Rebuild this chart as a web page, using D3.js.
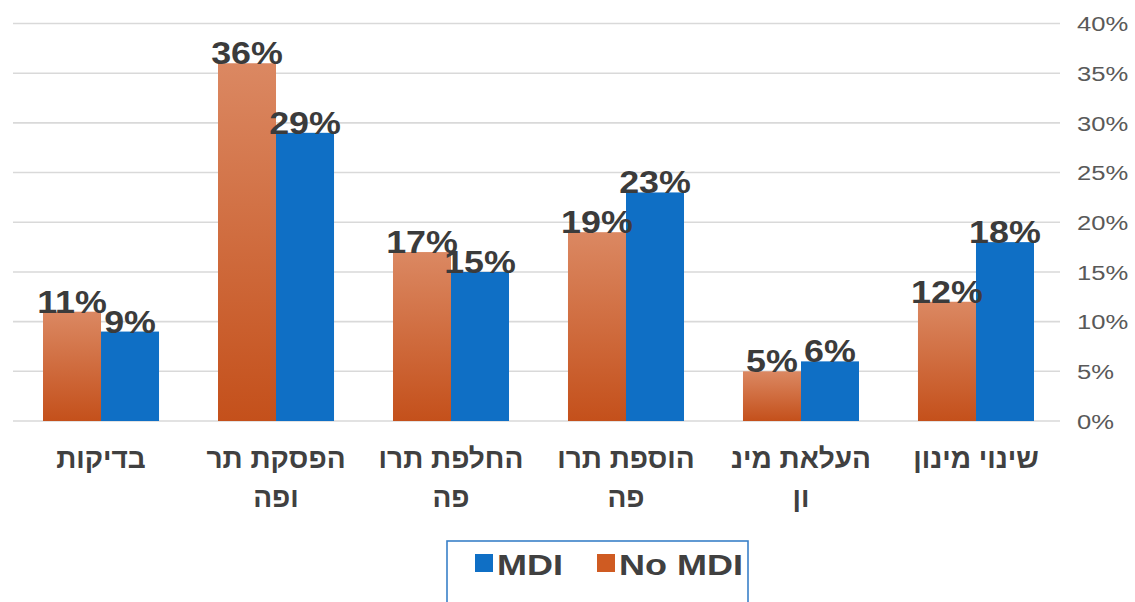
<!DOCTYPE html>
<html>
<head>
<meta charset="utf-8">
<script src="https://cdn.jsdelivr.net/npm/d3@7"></script>
<style>
  html, body { margin: 0; padding: 0; background: #ffffff; }
  svg { display: block; }
  text.cat { direction: rtl; }
</style>
</head>
<body>
<svg id="chart" width="1135" height="602"></svg>
<script>
// Category labels, already split into the two lines they wrap to
const categories = ["בדיקות", "הפסקת תרופה", "החלפת תרופה", "הוספת תרופה", "העלאת מינון", "שינוי מינון"];
const categoryLines = [
  ["בדיקות"],
  ["הפסקת תר", "ופה"],
  ["החלפת תרו", "פה"],
  ["הוספת תרו", "פה"],
  ["העלאת מינ", "ון"],
  ["שינוי מינון"]
];
const seriesNames = ["No MDI", "MDI"];
const noMdi = [11, 36, 17, 19, 5, 12];
const mdi = [9, 29, 15, 23, 6, 18];
const yTicks = [0, 5, 10, 15, 20, 25, 30, 35, 40];
const legendOrder = ["MDI", "No MDI"];

const colors = { "No MDI": "url(#orangeGrad)", "MDI": "#0f6fc5" };
const swatch = { "No MDI": "#cf5b22", "MDI": "#0f6fc5" };

const svg = d3.select("#chart");
const defs = svg.append("defs");
const grad = defs.append("linearGradient")
  .attr("id", "orangeGrad").attr("x1", 0).attr("y1", 0).attr("x2", 0).attr("y2", 1);
grad.append("stop").attr("offset", "0%").attr("stop-color", "#db8862");
grad.append("stop").attr("offset", "100%").attr("stop-color", "#c4501b");

const FONT = "'Liberation Sans', Arial, 'DejaVu Sans', sans-serif";

const x0 = d3.scaleBand().domain(categories).range([13.5, 1063.5])
  .paddingInner(0.337).paddingOuter(0.1686);
const x1 = d3.scaleBand().domain(seriesNames).range([0, x0.bandwidth()]);
const y = d3.scaleLinear().domain([0, 40]).range([421, 23.5]);

// Gridlines
svg.append("g").selectAll("line").data(yTicks).join("line")
  .attr("x1", 13).attr("x2", 1060)
  .attr("y1", d => y(d)).attr("y2", d => y(d))
  .attr("stroke", "#d9d9d9").attr("stroke-width", 1.6);

// Right-hand value axis
const TICK_SX = 1.22;
const yAxis = svg.append("g").attr("transform", "translate(1077,0)")
  .call(d3.axisRight(y).tickValues(yTicks).tickSize(0).tickPadding(0).tickFormat(d => d + "%"));
yAxis.select(".domain").remove();
yAxis.selectAll("text")
  .attr("x", 0).attr("dy", "0.35em")
  .attr("transform", `scale(${TICK_SX},1)`)
  .attr("fill", "#595959")
  .style("font-family", FONT).style("font-size", "21px");

// Bars
const rows = categories.map((c, i) => ({ cat: c, vals: [
  { key: "No MDI", v: noMdi[i] }, { key: "MDI", v: mdi[i] }
]}));

const groups = svg.append("g").selectAll("g").data(rows).join("g")
  .attr("transform", d => `translate(${x0(d.cat)},0)`);

groups.selectAll("rect").data(d => d.vals).join("rect")
  .attr("x", d => x1(d.key))
  .attr("width", x1.bandwidth())
  .attr("y", d => y(d.v))
  .attr("height", d => y(0) - y(d.v))
  .attr("fill", d => colors[d.key]);

// Value labels above bars
const LABEL_SX = 1.12;
groups.selectAll("text.val").data(d => d.vals).join("text")
  .attr("class", "val")
  .attr("transform", d => `translate(${x1(d.key) + x1.bandwidth() / 2},${y(d.v) + 1}) scale(${LABEL_SX},1)`)
  .attr("text-anchor", "middle")
  .attr("fill", "#3b3b3b")
  .style("font-family", FONT).style("font-weight", "bold").style("font-size", "32px")
  .text(d => d.v + "%");

// Category labels (Hebrew, wrapped)
const catG = svg.append("g");
categories.forEach((c, i) => {
  const cx = x0(c) + x0.bandwidth() / 2;
  categoryLines[i].forEach((line, j) => {
    catG.append("text")
      .attr("class", "cat")
      .attr("x", cx).attr("y", 468 + j * 39)
      .attr("text-anchor", "middle")
      .attr("fill", "#404040")
      .style("font-family", FONT).style("font-weight", "bold").style("font-size", "28px")
      .text(line);
  });
});

// Legend
const legend = svg.append("g").attr("transform", "translate(447,541)");
legend.append("rect")
  .attr("x", 0).attr("y", 0).attr("width", 301).attr("height", 90)
  .attr("fill", "#ffffff").attr("stroke", "#3a80c8").attr("stroke-width", 1.6);
const legendPos = { "MDI": 28, "No MDI": 150 };
const LEG_SX = 1.2;
legendOrder.forEach(k => {
  const lx = legendPos[k];
  legend.append("rect")
    .attr("x", lx).attr("y", 13).attr("width", 18).attr("height", 18)
    .attr("fill", swatch[k]);
  legend.append("text")
    .attr("transform", `translate(${lx + 22},34) scale(${LEG_SX},1)`)
    .attr("fill", "#404040")
    .style("font-family", FONT).style("font-weight", "bold").style("font-size", "30px")
    .text(k);
});
</script>
</body>
</html>
